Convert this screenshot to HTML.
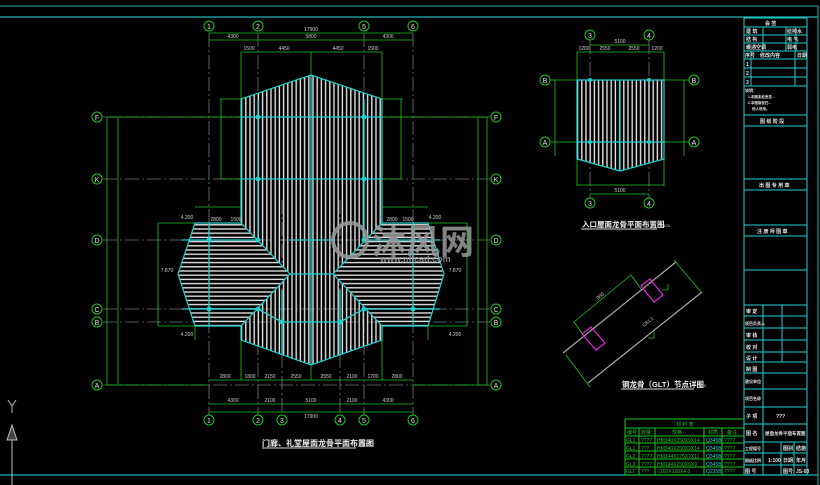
<!DOCTYPE html>
<html><head><meta charset="utf-8"><style>
html,body{margin:0;padding:0;background:#000;width:820px;height:485px;overflow:hidden}
svg{display:block}
text{font-family:"Liberation Sans","Noto Sans CJK SC",sans-serif}
</style></head><body>
<svg width="820" height="485" viewBox="0 0 820 485" xmlns="http://www.w3.org/2000/svg">
<defs>
<pattern id="vs" width="4.2" height="10" patternUnits="userSpaceOnUse"><rect x="1.5" y="0" width="1.4" height="10" fill="#e0e0e0"/></pattern>
<pattern id="hs" width="10" height="4.2" patternUnits="userSpaceOnUse"><rect x="0" y="1.5" width="10" height="1.4" fill="#e0e0e0"/></pattern>
</defs>
<rect width="820" height="485" fill="#000"/>
<g stroke="#1fb5b5" fill="none">
<line x1="0" y1="6" x2="818" y2="6" stroke-width="1"/>
<line x1="0" y1="17" x2="818" y2="17" stroke-width="1.2"/>
<line x1="0" y1="475" x2="818" y2="475" stroke-width="1.2"/>
<line x1="818" y1="6" x2="818" y2="485"/>
</g>
<!-- UCS -->
<g stroke="#bbb" fill="none"><path d="M8 400 12 406 16 400 M12 406 12 413"/><path d="M7 440 12 425 17 440Z" fill="#444"/><line x1="12" y1="440" x2="12" y2="485"/></g>

<g stroke="#777" stroke-width="0.8" stroke-dasharray="14 3 2 3">
<line x1="103" y1="117" x2="490" y2="117"/><line x1="103" y1="179" x2="490" y2="179"/>
<line x1="103" y1="240" x2="490" y2="240"/><line x1="103" y1="309" x2="490" y2="309"/>
<line x1="103" y1="322" x2="490" y2="322"/><line x1="103" y1="385" x2="490" y2="385"/>
<line x1="209" y1="33" x2="209" y2="415"/><line x1="258" y1="33" x2="258" y2="415"/>
<line x1="282" y1="200" x2="282" y2="415"/><line x1="340" y1="200" x2="340" y2="415"/>
<line x1="364" y1="33" x2="364" y2="415"/><line x1="413" y1="33" x2="413" y2="415"/>
</g>
<polygon points="241,99 311,75 382,99 382,340 311,365 241,340" fill="url(#vs)" stroke="#1fd0d0" stroke-width="1.2"/>
<polygon points="195,223 241,223 290,274 241,326 195,326 178,274" fill="#000"/>
<polygon points="195,223 241,223 290,274 241,326 195,326 178,274" fill="url(#hs)" stroke="#1fd0d0" stroke-width="1.2"/>
<polygon points="382,223 428,223 444,274 428,326 382,326 333,274" fill="#000"/>
<polygon points="382,223 428,223 444,274 428,326 382,326 333,274" fill="url(#hs)" stroke="#1fd0d0" stroke-width="1.2"/>
<g stroke="#1fd0d0" stroke-width="1.3">
<line x1="241" y1="117" x2="382" y2="117"/><line x1="241" y1="179" x2="382" y2="179"/>
<line x1="290" y1="240" x2="333" y2="240"/><line x1="290" y1="274" x2="333" y2="274"/><line x1="280" y1="322" x2="343" y2="322"/>
<line x1="258" y1="99" x2="258" y2="240"/><line x1="364" y1="99" x2="364" y2="240"/><line x1="311" y1="75" x2="311" y2="365"/>
<line x1="209" y1="223" x2="209" y2="326"/><line x1="413" y1="223" x2="413" y2="326"/>
<line x1="182" y1="240" x2="258" y2="240"/><line x1="365" y1="240" x2="440" y2="240"/>
<line x1="182" y1="309" x2="258" y2="309"/><line x1="365" y1="309" x2="440" y2="309"/>
<line x1="258" y1="309" x2="282" y2="322"/><line x1="364" y1="309" x2="340" y2="322"/>
<line x1="282" y1="290" x2="282" y2="355"/><line x1="340" y1="290" x2="340" y2="355"/>
</g>
<g fill="#1fd0d0">
<circle cx="258" cy="117" r="2.5"/><circle cx="364" cy="117" r="2.5"/><circle cx="258" cy="179" r="2.5"/><circle cx="364" cy="179" r="2.5"/>
<circle cx="209" cy="240" r="2.5"/><circle cx="258" cy="240" r="2.5"/><circle cx="364" cy="240" r="2.5"/><circle cx="413" cy="240" r="2.5"/>
<circle cx="209" cy="309" r="2.5"/><circle cx="258" cy="309" r="2.5"/><circle cx="364" cy="309" r="2.5"/><circle cx="413" cy="309" r="2.5"/>
<circle cx="282" cy="322" r="2.5"/><circle cx="340" cy="322" r="2.5"/>
</g>
<g stroke="#18c818" stroke-width="0.8" fill="none">
<line x1="209" y1="33" x2="413" y2="33"/><line x1="209" y1="40" x2="413" y2="40"/><line x1="241" y1="52" x2="382" y2="52"/>
<line x1="241" y1="52" x2="241" y2="99"/><line x1="382" y1="52" x2="382" y2="99"/><line x1="311" y1="52" x2="311" y2="75"/>
<line x1="220" y1="99" x2="241" y2="99"/><line x1="382" y1="99" x2="403" y2="99"/>
<line x1="221" y1="99" x2="221" y2="179"/><line x1="401" y1="99" x2="401" y2="179"/>
<line x1="221" y1="179" x2="241" y2="179"/><line x1="382" y1="179" x2="401" y2="179"/>
<line x1="107" y1="117" x2="107" y2="385"/><line x1="118" y1="117" x2="118" y2="385"/>
<line x1="487" y1="117" x2="487" y2="385"/><line x1="478" y1="117" x2="478" y2="385"/>
<line x1="107" y1="117" x2="241" y2="117"/><line x1="382" y1="117" x2="487" y2="117"/>
<line x1="107" y1="385" x2="209" y2="385"/><line x1="413" y1="385" x2="487" y2="385"/>
<line x1="158" y1="223" x2="195" y2="223"/><line x1="158" y1="326" x2="195" y2="326"/><line x1="158" y1="223" x2="158" y2="326"/>
<line x1="428" y1="223" x2="467" y2="223"/><line x1="428" y1="326" x2="467" y2="326"/><line x1="467" y1="223" x2="467" y2="326"/>
<line x1="195" y1="207" x2="241" y2="207"/><line x1="382" y1="207" x2="428" y2="207"/>
<line x1="209" y1="380" x2="413" y2="380"/><line x1="209" y1="404" x2="413" y2="404"/><line x1="209" y1="412" x2="413" y2="412"/>
<line x1="241" y1="340" x2="241" y2="380"/><line x1="382" y1="340" x2="382" y2="380"/><line x1="311" y1="365" x2="311" y2="380"/>
<line x1="195" y1="326" x2="195" y2="340"/><line x1="428" y1="326" x2="428" y2="340"/>
</g>
<g font-size="5" fill="#cfcfcf" text-anchor="middle">
<text x="311" y="31">17900</text><text x="233" y="38">4300</text><text x="311" y="38">5800</text><text x="388" y="38">4300</text>
<text x="249" y="50">1500</text><text x="284" y="50">4450</text><text x="338" y="50">4450</text><text x="373" y="50">1500</text>
<text x="311" y="402">5100</text><text x="233" y="402">4300</text><text x="270" y="402">2100</text><text x="352" y="402">2100</text><text x="388" y="402">4300</text><text x="311" y="418">17900</text>
<text x="225" y="378">2800</text><text x="250" y="378">1800</text><text x="270" y="378">2150</text><text x="296" y="378">2550</text><text x="326" y="378">2550</text><text x="352" y="378">2100</text><text x="373" y="378">1700</text><text x="397" y="378">2800</text>
<text x="236" y="221">1500</text><text x="216" y="221">2800</text><text x="392" y="221">2800</text><text x="408" y="221">1500</text>
<text x="187" y="219">4.200</text><text x="435" y="219">4.200</text><text x="187" y="336">4.200</text><text x="455" y="336">4.200</text>
<text x="167" y="272">7.870</text><text x="455" y="272">7.870</text>
</g>
<g stroke="#18c818" stroke-width="1" fill="#000">
<circle cx="209" cy="26" r="5"/><circle cx="258" cy="26" r="5"/><circle cx="364" cy="26" r="5"/><circle cx="413" cy="26" r="5"/>
<circle cx="209" cy="420" r="5"/><circle cx="258" cy="420" r="5"/><circle cx="282" cy="420" r="5"/><circle cx="340" cy="420" r="5"/><circle cx="364" cy="420" r="5"/><circle cx="413" cy="420" r="5"/>
<circle cx="97" cy="117" r="5"/><circle cx="97" cy="179" r="5"/><circle cx="97" cy="240" r="5"/><circle cx="97" cy="309" r="5"/><circle cx="97" cy="322" r="5"/><circle cx="97" cy="385" r="5"/>
<circle cx="496" cy="117" r="5"/><circle cx="496" cy="179" r="5"/><circle cx="496" cy="240" r="5"/><circle cx="496" cy="309" r="5"/><circle cx="496" cy="322" r="5"/><circle cx="496" cy="385" r="5"/>
</g>
<g font-size="7" fill="#e0e0e0" text-anchor="middle">
<text x="209" y="29">1</text><text x="258" y="29">2</text><text x="364" y="29">5</text><text x="413" y="29">6</text>
<text x="209" y="423">1</text><text x="258" y="423">2</text><text x="282" y="423">3</text><text x="340" y="423">4</text><text x="364" y="423">5</text><text x="413" y="423">6</text>
<text x="97" y="120">F</text><text x="97" y="182">K</text><text x="97" y="243">D</text><text x="97" y="312">C</text><text x="97" y="325">B</text><text x="97" y="388">A</text>
<text x="496" y="120">F</text><text x="496" y="182">K</text><text x="496" y="243">D</text><text x="496" y="312">C</text><text x="496" y="325">B</text><text x="496" y="388">A</text>
</g>
<g fill="#9a9a9a" opacity="0.85">
<circle cx="350" cy="240" r="17" fill="none" stroke="#9a9a9a" stroke-width="4"/>
<text x="372" y="254" font-size="34" font-weight="bold" font-family="'Noto Sans CJK SC',sans-serif">沐风网</text>
<text x="380" y="262" font-size="9" font-weight="bold">www.mfcad.com</text>
</g>
<text x="262" y="446" font-size="8" fill="#f0f0f0" font-weight="bold">门廊、礼堂屋面龙骨平面布置图</text>
<text x="358" y="446" font-size="4.5" fill="#ccc">1:100</text>
<line x1="262" y1="448" x2="356" y2="448" stroke="#ddd" stroke-width="1"/>

<g stroke="#777" stroke-width="0.8" stroke-dasharray="14 3 2 3">
<line x1="590" y1="40" x2="590" y2="198"/><line x1="649" y1="40" x2="649" y2="198"/>
</g>
<g stroke="#18c818" stroke-width="0.8" fill="none">
<line x1="550" y1="80" x2="689" y2="80"/><line x1="550" y1="142" x2="689" y2="142"/>
<line x1="555" y1="80" x2="555" y2="156"/><line x1="684" y1="80" x2="684" y2="156"/>
<line x1="590" y1="45" x2="649" y2="45"/><line x1="577" y1="52" x2="664" y2="52"/>
<line x1="577" y1="52" x2="577" y2="186"/><line x1="664" y1="52" x2="664" y2="186"/>
<line x1="577" y1="185" x2="664" y2="185"/><line x1="590" y1="194" x2="649" y2="194"/>
</g>
<polygon points="577,80 664,80 664,159 620,171 577,159" fill="url(#vs)" stroke="#1fd0d0" stroke-width="1.2"/>
<g stroke="#1fd0d0" stroke-width="1.3"><line x1="577" y1="142" x2="664" y2="142"/><line x1="620" y1="80" x2="620" y2="171"/></g>
<g fill="#1fd0d0"><circle cx="590" cy="80" r="2"/><circle cx="649" cy="80" r="2"/><circle cx="590" cy="142" r="2"/><circle cx="649" cy="142" r="2"/></g>
<g stroke="#18c818" stroke-width="1" fill="#000">
<circle cx="590" cy="35" r="5"/><circle cx="649" cy="35" r="5"/><circle cx="590" cy="203" r="5"/><circle cx="649" cy="203" r="5"/>
<circle cx="545" cy="80" r="5"/><circle cx="545" cy="142" r="5"/><circle cx="694" cy="80" r="5"/><circle cx="694" cy="142" r="5"/>
</g>
<g font-size="7" fill="#e0e0e0" text-anchor="middle">
<text x="590" y="38">3</text><text x="649" y="38">4</text><text x="590" y="206">3</text><text x="649" y="206">4</text>
<text x="545" y="83">B</text><text x="545" y="145">A</text><text x="694" y="83">B</text><text x="694" y="145">A</text>
</g>
<g font-size="5" fill="#cfcfcf" text-anchor="middle"><text x="620" y="43">5100</text><text x="620" y="192">5100</text>
<text x="584" y="50">1200</text><text x="605" y="50">2550</text><text x="634" y="50">2550</text><text x="657" y="50">1200</text></g>
<text x="582" y="227" font-size="7.5" fill="#f0f0f0" font-weight="bold">入口屋面龙骨平面布置图</text>
<text x="660" y="227" font-size="4" fill="#ccc">1:100</text>
<line x1="581" y1="229" x2="657" y2="229" stroke="#ddd"/>

<g stroke="#aaa" stroke-width="1.2"><line x1="563" y1="353" x2="676" y2="262"/><line x1="588" y1="383" x2="702" y2="292"/></g>
<g stroke="#18c818" stroke-width="0.8" fill="none">
<line x1="574" y1="322" x2="631" y2="275"/><line x1="574" y1="322" x2="584" y2="336"/><line x1="631" y1="275" x2="641" y2="289"/>
<line x1="566" y1="355" x2="590" y2="387"/><line x1="674" y1="260" x2="702" y2="293"/>
<path d="M662 290 h6 v-6 M648 338 h6 v-6"/>
</g>
<g stroke="#e020e0" stroke-width="1.2" fill="none">
<polygon points="641,286 650,279 663,295 654,302"/><polygon points="582,334 591,327 605,343 596,350"/>
</g>
<text x="598" y="300" font-size="5" fill="#ccc" transform="rotate(-39 598 300)">900</text>
<text x="644" y="327" font-size="5" fill="#ccc" transform="rotate(-39 644 327)">GKL1</text>
<text x="622" y="387" font-size="7.5" fill="#f0f0f0" font-weight="bold">钢龙骨（GLT）节点详图</text>
<text x="696" y="387" font-size="4" fill="#ccc">1:100</text>
<line x1="621" y1="389" x2="694" y2="389" stroke="#ddd"/>

<g stroke="#18c818" stroke-width="1" fill="none">
<rect x="625" y="419" width="119" height="56"/>
<line x1="625" y1="428" x2="744" y2="428"/><line x1="625" y1="436" x2="744" y2="436"/><line x1="625" y1="443" x2="744" y2="443"/>
<line x1="625" y1="451" x2="744" y2="451"/><line x1="625" y1="459" x2="744" y2="459"/><line x1="625" y1="467" x2="744" y2="467"/>
<line x1="639" y1="428" x2="639" y2="475"/><line x1="655" y1="428" x2="655" y2="475"/><line x1="704" y1="428" x2="704" y2="475"/><line x1="722" y1="428" x2="722" y2="475"/>
</g>
<g font-size="5" fill="#18c818">
<text x="676" y="426">材 料 表</text>
<text x="627" y="434">编号</text><text x="641" y="434">数量</text><text x="672" y="434">规格</text><text x="708" y="434">材质</text><text x="727" y="434">备注</text>
<text x="626" y="442">GL1</text><text x="641" y="442">????</text><text x="657" y="442">HM340X250X9X14</text><text x="706" y="442" fill="#1fd0d0">Q345B</text><text x="724" y="442">????</text>
<text x="626" y="450">GL1</text><text x="641" y="450">???</text><text x="657" y="450">HM340X250X9X14</text><text x="706" y="450" fill="#1fd0d0">Q345B</text><text x="724" y="450">????</text>
<text x="626" y="458">GL2</text><text x="641" y="458">????</text><text x="657" y="458">HM344X175X7X11</text><text x="706" y="458" fill="#1fd0d0">Q345B</text><text x="724" y="458">????</text>
<text x="626" y="466">GL3</text><text x="641" y="466">????</text><text x="657" y="466">HM194X150X6X9</text><text x="706" y="466" fill="#1fd0d0">Q345B</text><text x="724" y="466">????</text>
<text x="626" y="473">GLT</text><text x="641" y="473">???</text><text x="657" y="473">□200X120X4.0</text><text x="706" y="473" fill="#1fd0d0">Q235B</text><text x="724" y="473">????</text>
</g>

<g stroke="#1fd0d0" stroke-width="1" fill="none">
<rect x="744" y="18" width="63" height="457"/>
<path d="M744 27H807M744 35H807M744 43H807M744 51H807M744 59H807M744 68H807M744 77H807M744 86H807M744 115H807M744 126H807M744 179H807M744 190H807M744 225H807M744 236H807M744 270H807M744 305H807M744 316H807M744 328H807M744 340H807M744 352H807M744 362H807M744 373H807M744 389H807M744 407H807M744 424H807M744 442H807M744 453H807M744 465H807"/>
<path d="M763 27V51M786 27V51M796 27V51M751 51V86M795 51V86M763 305V475M782 305V362M781 442V475M794 442V475"/>
</g>
<g font-size="5" fill="#e8e8e8" font-weight="bold">
<text x="765" y="25">会 签</text><text x="746" y="33">建 筑</text><text x="787" y="33">给排水</text><text x="746" y="41">结 构</text><text x="787" y="41">电 气</text>
<text x="746" y="49">暖通空调</text><text x="787" y="49">弱电</text><text x="745" y="57">序号</text><text x="760" y="57">修改内容</text><text x="797" y="57">日期</text>
<text x="746" y="66">1</text><text x="746" y="75">2</text><text x="746" y="84">3</text>
<text x="745" y="92" font-size="4">说明：</text><text x="748" y="98" font-size="3.5">1.本图未经盖章...</text><text x="748" y="104" font-size="3.5">2.本图版权归...</text><text x="752" y="110" font-size="3.5">他人使用。</text>
<text x="760" y="123">图 纸 阶 段</text><text x="759" y="187">出 图 专 用 章</text><text x="757" y="233">注 册 师 图 章</text>
<text x="746" y="313">审 定</text><text x="745" y="325" font-size="4">项目负责人</text><text x="746" y="337">审 核</text><text x="746" y="349">校 对</text><text x="746" y="360">设 计</text><text x="746" y="371">制 图</text>
<text x="745" y="383" font-size="4">建设单位</text><text x="745" y="400" font-size="4">项目名称</text><text x="746" y="418">子 项</text><text x="776" y="418">???</text>
<text x="746" y="435">图 名</text><text x="765" y="435" font-size="4.5">屋面龙骨平面布置图</text>
<text x="745" y="450" font-size="4">工程编号</text><text x="783" y="450">图别</text><text x="796" y="450">结施</text>
<text x="745" y="462" font-size="4">图纸比例</text><text x="768" y="462">1:100</text><text x="783" y="462">日期</text><text x="796" y="462">年月</text>
<text x="745" y="473">图 号</text><text x="783" y="473">图号</text><text x="796" y="473">JS-03</text>
</g>
</svg>
</body></html>
